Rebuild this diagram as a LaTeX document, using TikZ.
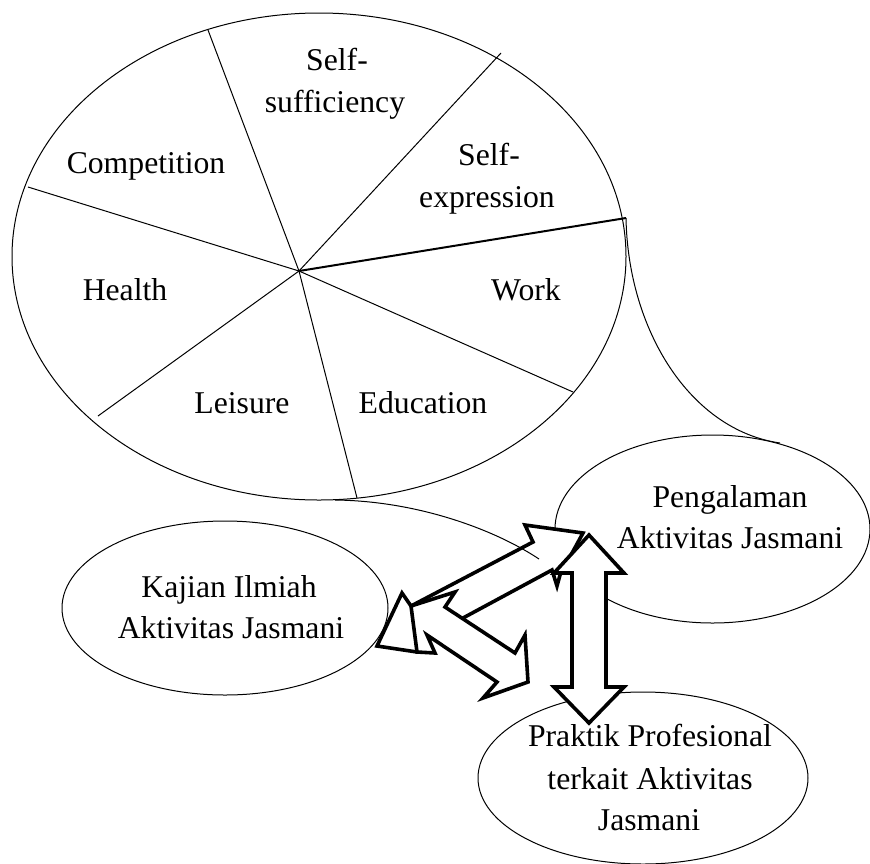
\documentclass[tikz,border=0pt]{standalone}
\usepackage{fontspec}
\setmainfont{Liberation Serif}
\usetikzlibrary{shapes.geometric}
\begin{document}
\begin{tikzpicture}[x=1pt,y=-1pt,
  thinline/.style={line width=1pt},
  spoke/.style={line width=1pt},
  blockarrow/.style={line width=3.6pt, fill=white, line join=miter, miter limit=6},
  lbl/.style={anchor=base, inner sep=0pt, font=\fontsize{31.7}{42}\selectfont},
  bubble/.style={draw, ellipse, line width=1pt, inner sep=0pt, fill=white}]
\useasboundingbox (0,0) rectangle (870,863);

% pie
\node[bubble, minimum width=614pt, minimum height=487pt] (pie) at (319,256.5) {};
\coordinate (c) at (299,271);
\coordinate (s1) at (208,30);
\coordinate (s2) at (501,53);
\coordinate (s3) at (626,218);
\coordinate (s4) at (573,392);
\coordinate (s5) at (357,498);
\coordinate (s6) at (98,416);
\coordinate (s7) at (28,187);
\draw[spoke] (c) -- (s1);
\draw[spoke] (c) -- (s2);
\draw[line width=2pt] (c) -- (s3);
\draw[spoke] (c) -- (s4);
\draw[spoke] (c) -- (s5);
\draw[spoke] (c) -- (s6);
\draw[spoke] (c) -- (s7);

% callout curve to Pengalaman
\coordinate (t1) at (780,443);
\draw[thinline] (s3) .. controls (628,330) and (690,430) .. (t1);

% ellipses
\node[bubble, minimum width=315pt, minimum height=188pt] (peng) at (712.5,529) {};
\node[bubble, minimum width=326pt, minimum height=174pt] (kaj) at (225,608) {};
\node[bubble, minimum width=330pt, minimum height=172pt] (prak) at (643,778) {};

% arrow Kajian <-> Pengalaman
\draw[blockarrow] (377,646) -- (402,593) -- (411,606) -- (533,542) -- (525,525)
  -- (583,533) -- (560,575) -- (557,586) -- (552,570) -- (463,618) -- (430,636)
  -- (417,652) -- cycle;

% callout tail from pie bottom
\coordinate (t0) at (335,500);
\coordinate (t2) at (539,559);
\draw[thinline] (t0) .. controls (420,501) and (497,531) .. (t2);

% arrow Kajian <-> Praktik
\draw[blockarrow] (411,606) -- (455,592) -- (445,607) -- (515,653) -- (525,635)
  -- (528,682) -- (483,698) -- (497,682) -- (427,635) -- (435,653) -- (417,652) -- cycle;

% vertical arrow Pengalaman <-> Praktik
\draw[blockarrow] (589,535) -- (624,573) -- (606,573) -- (606,687) -- (624,687)
  -- (589,723) -- (554,687) -- (572,687) -- (572,573) -- (554,573) -- cycle;

% pie labels
\node[lbl] (l1a) at (337,70) {Self-};
\node[lbl] (l1b) at (335,112) {sufficiency};
\node[lbl] (l2) at (146,173) {Competition};
\node[lbl] (l3a) at (489,165) {Self-};
\node[lbl] (l3b) at (487,207) {expression};
\node[lbl] (l4) at (125,300) {Health};
\node[lbl] (l5) at (526,300) {Work};
\node[lbl] (l6) at (242,413) {Leisure};
\node[lbl] (l7) at (423,413) {Education};

% ellipse labels
\node[lbl] (p1) at (730,507) {Pengalaman};
\node[lbl] (p2) at (730,548) {Aktivitas Jasmani};
\node[lbl] (k1) at (229,597) {Kajian Ilmiah};
\node[lbl] (k2) at (231,638) {Aktivitas Jasmani};
\node[lbl] (r1) at (650,746) {Praktik Profesional};
\node[lbl] (r2) at (650,789) {terkait Aktivitas};
\node[lbl] (r3) at (649,830) {Jasmani};
\end{tikzpicture}
\end{document}
